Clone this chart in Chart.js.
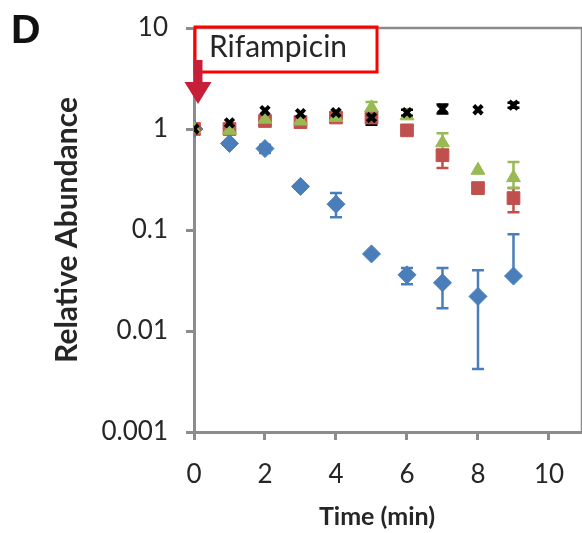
<!DOCTYPE html>
<html>
<head>
<meta charset="utf-8">
<script src="https://cdn.jsdelivr.net/npm/chart.js@4/dist/chart.umd.min.js"></script>
<style>
  html, body { margin: 0; padding: 0; background: #fff; }
  canvas { display: block; }
</style>
</head>
<body>
<canvas id="abundanceChart" width="582" height="533"></canvas>
<script>
// time points (min)
const times = [0, 1, 2, 3, 4, 5, 6, 7, 8, 9];
const xTicks = [0, 2, 4, 6, 8, 10];
const yTicks = [0.001, 0.01, 0.1, 1, 10];

// relative abundance per series, with lower / upper error bar ends
const blackVals = [1, 1.15, 1.52, 1.42, 1.45, 1.3, 1.45, 1.58, 1.55, 1.72];
const blackLo   = [null, null, null, null, null, 1.1, 1.35, 1.42, null, 1.62];
const blackHi   = [null, null, null, null, null, 1.5, 1.55, 1.75, null, 1.82];

const greenVals = [1, 0.97, 1.25, 1.2, 1.3, 1.62, 1.35, 0.73, 0.39, 0.33];
const greenLo   = [null, null, null, null, null, 1.45, null, 0.6, null, 0.26];
const greenHi   = [null, null, null, null, null, 1.85, null, 0.91, null, 0.47];

const redVals = [1, 1.0, 1.2, 1.17, 1.3, 1.3, 0.97, 0.55, 0.26, 0.207];
const redLo   = [null, null, null, null, null, null, 0.9, 0.41, null, 0.15];
const redHi   = [null, null, null, null, null, null, 1.05, 0.62, null, 0.26];

const blueVals = [1, 0.72, 0.64, 0.27, 0.18, 0.058, 0.036, 0.030, 0.022, 0.035];
const blueLo   = [null, null, 0.58, null, 0.134, null, 0.029, 0.0168, 0.0042, null];
const blueHi   = [null, null, 0.70, null, 0.232, null, 0.042, 0.042, 0.040, 0.091];

const AXIS_GREY = '#8c8c8c';
const TEXT = '#262626';

function pts(vals) {
  return times.map((t, i) => ({ x: t, y: vals[i] }));
}

// error bars drawn under the markers
const errorBars = {
  id: 'errorBars',
  beforeDatasetsDraw(chart) {
    const { ctx, scales: { x, y } } = chart;
    chart.data.datasets.slice().reverse().forEach(ds => {
      ctx.save();
      ctx.strokeStyle = ds.borderColor;
      ctx.lineWidth = 2.5;
      ds.data.forEach((p, k) => {
        const px = x.getPixelForValue(p.x);
        const py = y.getPixelForValue(p.y);
        [ds.errLo[k], ds.errHi[k]].forEach(e => {
          if (e == null) return;
          const pe = y.getPixelForValue(e);
          ctx.beginPath();
          ctx.moveTo(px, py);
          ctx.lineTo(px, pe);
          ctx.moveTo(px - 6, pe);
          ctx.lineTo(px + 6, pe);
          ctx.stroke();
        });
      });
      ctx.restore();
    });
  }
};

// plot frame, panel letter, x title, treatment label and arrow
const decorations = {
  id: 'decorations',
  beforeDatasetsDraw(chart) {
    const { ctx, chartArea: a } = chart;
    ctx.save();
    ctx.strokeStyle = AXIS_GREY;
    ctx.lineWidth = 2.5;
    ctx.beginPath();
    ctx.moveTo(a.left, a.top);
    ctx.lineTo(a.right, a.top);
    ctx.lineTo(a.right, a.bottom);
    ctx.stroke();
    ctx.restore();
  },
  afterDraw(chart) {
    const { ctx, scales: { x } } = chart;
    ctx.save();
    ctx.fillStyle = '#111';
    ctx.font = 'bold 41px "Liberation Sans", Arial, sans-serif';
    ctx.textBaseline = 'alphabetic';
    ctx.fillText('D', 11, 43);

    ctx.fillStyle = TEXT;
    ctx.font = 'bold 25px Lato, sans-serif';
    ctx.textAlign = 'center';
    ctx.textBaseline = 'middle';
    ctx.fillText('Time (min)', 377, 517);

    // Rifampicin box
    ctx.textAlign = 'left';
    ctx.textBaseline = 'alphabetic';
    ctx.strokeStyle = '#ff0000';
    ctx.lineWidth = 3;
    ctx.strokeRect(195, 27, 182, 45);
    ctx.font = '30px Lato, sans-serif';
    ctx.fillText('Rifampicin', 209, 57);

    // arrow at t = 0
    const ax = x.getPixelForValue(0) + 4;
    ctx.fillStyle = '#c62038';
    ctx.fillRect(ax - 4.5, 60, 9, 26);
    ctx.beginPath();
    ctx.moveTo(ax - 13.5, 82);
    ctx.lineTo(ax + 13.5, 82);
    ctx.lineTo(ax, 104);
    ctx.closePath();
    ctx.fill();
    ctx.restore();
  }
};

new Chart(document.getElementById('abundanceChart'), {
  type: 'scatter',
  data: {
    datasets: [
      { label: 'black', data: pts(blackVals), errLo: blackLo, errHi: blackHi,
        pointStyle: 'crossRot', radius: 6, borderWidth: 4,
        borderColor: '#000000', backgroundColor: '#000000' },
      { label: 'green', data: pts(greenVals), errLo: greenLo, errHi: greenHi,
        pointStyle: 'triangle', radius: 8, borderWidth: 1,
        borderColor: '#98b954', backgroundColor: '#98b954' },
      { label: 'red', data: pts(redVals), errLo: redLo, errHi: redHi,
        pointStyle: 'rect', radius: 9, borderWidth: 1,
        borderColor: '#c0504d', backgroundColor: '#c0504d' },
      { label: 'blue', data: pts(blueVals), errLo: blueLo, errHi: blueHi,
        pointStyle: 'rectRot', radius: 9, borderWidth: 1,
        borderColor: '#4a7ebb', backgroundColor: '#4a7ebb' }
    ]
  },
  options: {
    responsive: false,
    animation: false,
    layout: { autoPadding: false, padding: { top: 28, right: 0, bottom: 0, left: 0 } },
    plugins: { legend: { display: false }, tooltip: { enabled: false } },
    scales: {
      x: {
        type: 'linear',
        min: 0,
        max: 10.93,
        afterFit: s => { s.height = 101; s.paddingLeft = 0; s.paddingRight = 0; },
        afterBuildTicks: s => { s.ticks = xTicks.map(v => ({ value: v })); },
        grid: { drawOnChartArea: false, color: AXIS_GREY, lineWidth: 3, tickLength: 8 },
        border: { color: AXIS_GREY, width: 3 },
        ticks: { color: TEXT, font: { family: 'Lato', size: 26 }, padding: 19 }
      },
      y: {
        type: 'logarithmic',
        min: 0.001,
        max: 10,
        afterFit: s => { s.width = 194; s.paddingTop = 0; s.paddingBottom = 0; },
        afterBuildTicks: s => { s.ticks = yTicks.map(v => ({ value: v })); },
        grid: { drawOnChartArea: false, color: AXIS_GREY, lineWidth: 3, tickLength: 8 },
        border: { color: AXIS_GREY, width: 3 },
        ticks: { color: TEXT, font: { family: 'Lato', size: 26 }, padding: 18,
                 callback: v => String(v) },
        title: { display: true, text: 'Relative Abundance', color: TEXT,
                 font: { family: 'Lato', size: 30, weight: 'bold' }, padding: { top: 49, bottom: 0 } }
      }
    }
  },
  plugins: [errorBars, decorations]
});
</script>
</body>
</html>
